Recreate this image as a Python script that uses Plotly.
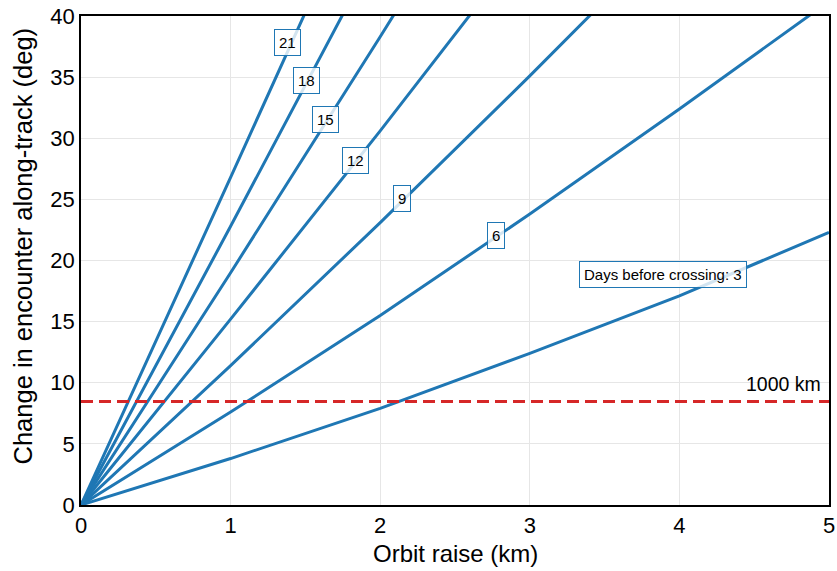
import plotly.graph_objects as go

# Data
days = [3, 6, 9, 12, 15, 18, 21]
x_km = [0, 1, 2, 3, 4, 5]
drift_deg = {
    3:  [0, 3.8, 7.9, 12.4, 17.1, 22.3],
    6:  [0, 7.6, 15.5, 23.8, 32.4, 41.2],
    9:  [0, 11.4, 23.1, 35.1, 47.4],
    12: [0, 15.2, 30.6, 46.4],
    15: [0, 19.0, 38.3, 58.0],
    18: [0, 22.8, 45.9],
    21: [0, 26.8, 53.8],
}
label_text = ["Days before crossing: 3", "6", "9", "12", "15", "18", "21"]
label_x = [3.893, 2.774, 2.144, 1.838, 1.636, 1.509, 1.379]
label_y = [18.85, 22.02, 25.11, 28.21, 31.52, 34.74, 37.83]
limit_deg = 8.47
limit_label = "1000 km"
x_title = "Orbit raise (km)"
y_title = "Change in encounter along-track (deg)"

blue = "#1f77b4"
red = "#d62728"
font_family = "Arial, Liberation Sans, sans-serif"

fig = go.Figure()
for d in days:
    ys = drift_deg[d]
    fig.add_trace(go.Scatter(x=x_km[:len(ys)], y=ys, mode="lines",
                             line=dict(color=blue, width=3),
                             showlegend=False, hoverinfo="skip"))

fig.add_trace(go.Scatter(x=[0, 5], y=[limit_deg, limit_deg], mode="lines",
                         line=dict(color=red, width=3, dash="12px,6px"),
                         showlegend=False, hoverinfo="skip"))

for t, lx, ly in zip(label_text, label_x, label_y):
    fig.add_annotation(x=lx, y=ly, text=t, showarrow=False,
                       font=dict(family=font_family, size=15, color="black"),
                       bgcolor="rgba(255,255,255,0.8)", bordercolor=blue,
                       borderwidth=1, borderpad=4)

fig.add_annotation(x=5, y=limit_deg, text=limit_label, showarrow=False,
                   xanchor="right", yanchor="bottom", xshift=-6, yshift=4,
                   font=dict(family=font_family, size=19.5, color="black"))

# axis titles
fig.add_annotation(xref="paper", yref="paper", x=0.5, y=0, yanchor="middle",
                   yshift=-48, text=x_title, showarrow=False,
                   font=dict(family=font_family, size=24, color="black"))
fig.add_annotation(xref="paper", yref="paper", x=0, y=0.5, xanchor="center",
                   yanchor="middle", xshift=-59, yshift=14, textangle=-90,
                   text=y_title, showarrow=False,
                   font=dict(family=font_family, size=25.5, color="black"))

axis_common = dict(showline=True, linecolor="black", linewidth=1.5, mirror=True,
                   showgrid=True, gridcolor="#e6e6e6", gridwidth=1,
                   zeroline=False, ticks="", automargin=False,
                   ticklabeloverflow="allow",
                   tickfont=dict(family=font_family, size=22, color="black"))

fig.update_xaxes(range=[0, 5], dtick=1, **axis_common)
fig.update_yaxes(range=[0, 40], dtick=5, **axis_common)

fig.update_layout(width=837, height=571, plot_bgcolor="white", paper_bgcolor="white",
                  margin=dict(l=81, r=8, t=16, b=66),
                  font=dict(family=font_family))

fig.write_html("out.html",
               config={"displayModeBar": False},
               post_script="document.body.style.margin='0';"
                           "document.body.style.overflow='hidden';")
